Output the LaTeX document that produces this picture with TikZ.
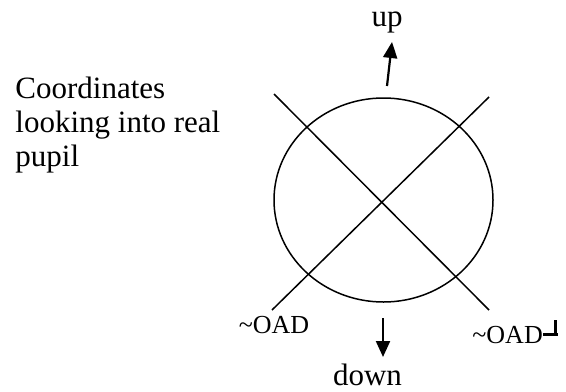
\documentclass[tikz,border=0pt]{standalone}
\usepackage{fontspec}
\setmainfont{Liberation Serif}
\usetikzlibrary{arrows.meta}
\tikzset{
  >={Triangle[length=8pt,width=7pt]},
  lab/.style={font=\fontsize{15.5}{17}\selectfont, inner sep=0pt},
  small/.style={font=\fontsize{13}{15}\selectfont, inner sep=0pt},
  thin/.style={draw=black, line width=0.75pt},
  dir/.style={draw=black, line width=1.1pt, ->},
  perp/.style={draw=black, line width=1.4pt},
}
\begin{document}
\begin{tikzpicture}[x=0.5pt,y=-0.5pt]
\useasboundingbox (0,0) rectangle (566,391);
% pupil
\coordinate (c) at (383.5,200);
\draw[thin] (c) ellipse [x radius=109.5, y radius=102];
% axes
\coordinate (a1) at (274,94);  \coordinate (a2) at (489,310);
\coordinate (b1) at (489,97);  \coordinate (b2) at (272,310);
\draw[thin] (a1) -- (a2);
\draw[thin] (b1) -- (b2);
% up / down
\coordinate (uptail) at (387,86);   \coordinate (uptip) at (392,42);
\coordinate (dntail) at (383,318);  \coordinate (dntip) at (383,357);
\draw[dir] (uptail) -- (uptip);
\draw[dir] (dntail) -- (dntip);
% labels
\node[lab, anchor=north west, align=left] (title) at (15,77) {Coordinates\\looking into real\\pupil};
\node[lab, anchor=base] (up) at (387,26) {up};
\node[lab, anchor=base] (down) at (367.5,385) {down};
\node[small, anchor=base] (oadl) at (274,333) {\textasciitilde OAD};
\node[small, anchor=base west] (oadr) at (472,343) {\textasciitilde OAD};
% perpendicular mark
\draw[perp] (oadr.east) -- ++(15,0) coordinate (pe);
\draw[perp] ([xshift=-1.5pt]pe) -- ++(0,-15);
\end{tikzpicture}
\end{document}
